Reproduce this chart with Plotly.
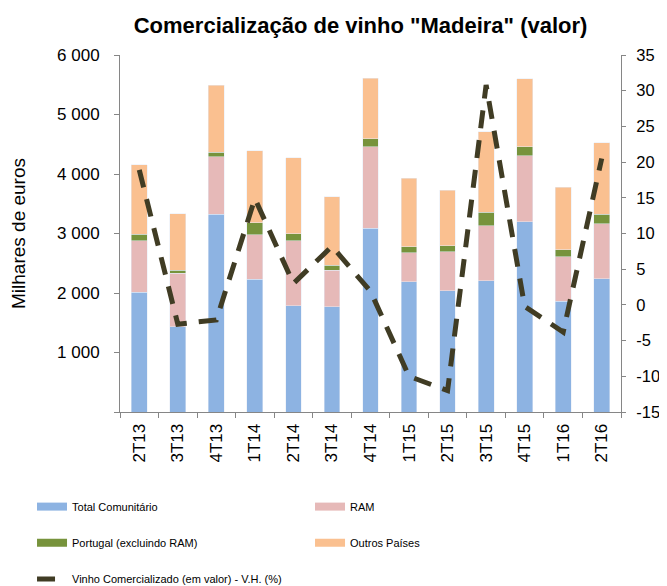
import plotly.graph_objects as go

categories = ["2T13", "3T13", "4T13", "1T14", "2T14", "3T14", "4T14",
              "1T15", "2T15", "3T15", "4T15", "1T16", "2T16"]
total_comunitario = [2010, 1435, 3320, 2230, 1785, 1770, 3085, 2190, 2040, 2205, 3200, 1865, 2240]
ram = [865, 895, 970, 750, 1095, 610, 1375, 485, 655, 925, 1110, 745, 925]
portugal = [115, 55, 75, 200, 120, 90, 135, 100, 100, 230, 150, 115, 160]
outros = [1165, 945, 1125, 1210, 1275, 1145, 1015, 1150, 935, 1350, 1140, 1055, 1200]
vh = [18.9, -2.7, -2.1, 14.9, 3.0, 8.2, 1.9, -10.0, -12.0, 30.8, -0.2, -3.8, 20.5]

left_tickvals = [0, 1000, 2000, 3000, 4000, 5000, 6000]
left_ticktext = ["", "1 000", "2 000", "3 000", "4 000", "5 000", "6 000"]
right_tickvals = [-15, -10, -5, 0, 5, 10, 15, 20, 25, 30, 35]
right_ticktext = ["-15", "-10", "-5", "0", "5", "10", "15", "20", "25", "30", "35"]

names = ["Total Comunitário", "RAM", "Portugal (excluindo RAM)", "Outros Países"]
colors = ["#8DB3E2", "#E6B9B8", "#77933C", "#FAC090"]
line_name = "Vinho Comercializado (em valor) - V.H. (%)"
line_color = "#403C24"

FONT = "Liberation Sans, Arial, sans-serif"
AXC = "#868686"

fig = go.Figure()
series = [total_comunitario, ram, portugal, outros]
for name, vals, col in zip(names, series, colors):
    fig.add_trace(go.Bar(x=categories, y=vals, name=name, marker_color=col,
                         showlegend=False, yaxis="y"))

legend_ids = ["legend", "legend", "legend2", "legend2"]
for name, col, lg in zip(names, colors, legend_ids):
    fig.add_trace(go.Scatter(x=[None], y=[None], mode="lines", name=name,
                             line=dict(color=col, width=8), legend=lg,
                             hoverinfo="skip"))

fig.add_trace(go.Scatter(x=categories, y=vh, name=line_name, mode="lines",
                         line=dict(color=line_color, width=5, dash="18px,12px"),
                         yaxis="y2", legend="legend3"))

leg_common = dict(orientation="h", x=-0.1756, xanchor="left", yanchor="middle",
                  entrywidth=233, entrywidthmode="pixels", traceorder="normal",
                  font=dict(family=FONT, size=11, color="#000"),
                  bgcolor="rgba(0,0,0,0)", tracegroupgap=0)

# page body has an 8px margin: figure sized/offset to compensate
fig.update_layout(
    width=659, height=578,
    margin=dict(l=112, r=46, t=47, b=174, autoexpand=False),
    paper_bgcolor="white", plot_bgcolor="white",
    barmode="stack", bargap=0.59,
    font=dict(family=FONT, color="#000"),
    title=dict(text="<b>Comercialização de vinho \"Madeira\" (valor)</b>",
               x=0.535, xref="container", xanchor="center",
               y=0.9706, yref="container", yanchor="middle",
               font=dict(family=FONT, size=22, color="#000")),
    xaxis=dict(type="category", showline=True, linecolor=AXC, linewidth=1,
               ticks="outside", tickson="boundaries", ticklen=5, tickcolor=AXC,
               tickangle=-90, ticklabelstandoff=4,
               tickfont=dict(size=17, family=FONT, color="#000"),
               showgrid=False, zeroline=False, automargin=False),
    yaxis=dict(range=[0, 6000], tickvals=left_tickvals, ticktext=left_ticktext,
               showline=True, linecolor=AXC, linewidth=1, ticks="outside",
               ticklen=5, tickcolor=AXC, ticklabelstandoff=11,
               tickfont=dict(size=17, family=FONT, color="#000"),
               showgrid=False, zeroline=False, automargin=False,
               title=dict(text="Milhares de euros", standoff=28,
                          font=dict(size=19, family=FONT, color="#000"))),
    yaxis2=dict(range=[-15, 35], tickvals=right_tickvals, ticktext=right_ticktext,
                overlaying="y", side="right", showline=True, linecolor=AXC,
                linewidth=1, ticks="outside", ticklen=4, tickcolor=AXC,
                ticklabelstandoff=7, automargin=False,
                tickfont=dict(size=16.5, family=FONT, color="#000"),
                showgrid=False, zeroline=False),
    legend=dict(y=-0.265, **leg_common),
    legend2=dict(y=-0.366, **leg_common),
    legend3=dict(y=-0.468, **leg_common),
)

fig.write_html("out.html")
